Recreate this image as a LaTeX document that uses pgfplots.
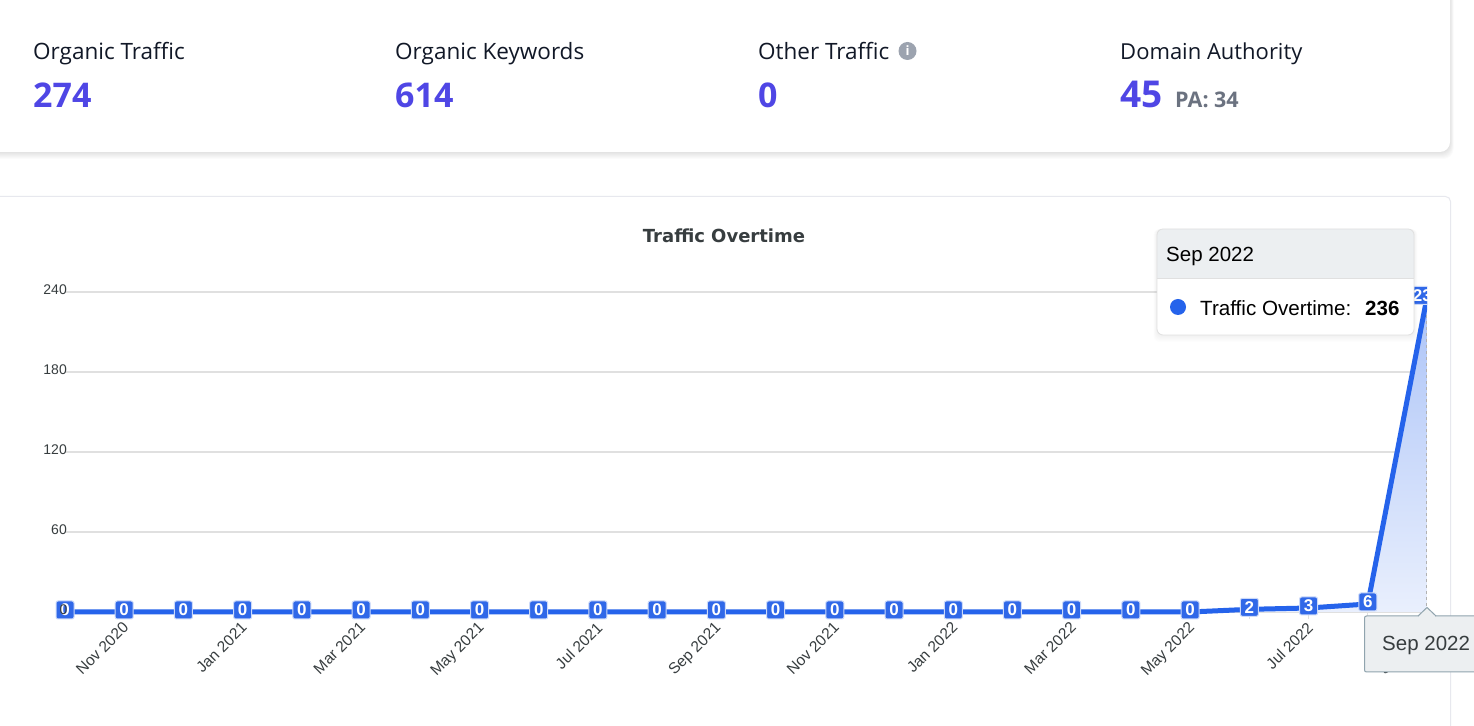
\documentclass[border=0pt]{standalone}
\usepackage{fontspec}
\setmainfont{Liberation Sans}
\newfontfamily\cardfont{Open Sans}
\newfontfamily\titlefont{DejaVu Sans}
\usepackage{pgfplots}
\pgfplotsset{compat=1.18}
\usepackage{pgfplotstable}
\definecolor{lineblue}{HTML}{2563EB}
\definecolor{labelblue}{HTML}{3068E8}
\definecolor{indigo}{HTML}{4F46E5}
\definecolor{txt}{HTML}{373D3F}
\definecolor{cardtxt}{HTML}{111827}
\definecolor{pagray}{HTML}{6B7280}
\definecolor{icongray}{HTML}{9CA3AF}
\definecolor{gridc}{HTML}{E0E0E0}
\definecolor{hdr}{HTML}{ECEFF1}
\definecolor{xtipb}{HTML}{90A4AE}
\definecolor{cardb}{HTML}{E7E8EE}
\newcommand{\px}[1]{\fontsize{#1}{#1}\selectfont}
\newcommand{\softshadow}[6]{%
  \foreach \d in {1,2,3,4,5,6,7}{%
    \fill[black,opacity=#6,rounded corners=#5] (#1-\d*0.5,#2) rectangle (#3+\d*0.5,#4+\d);}}
\pgfplotstableread{
idx traffic
0 0
1 0
2 0
3 0
4 0
5 0
6 0
7 0
8 0
9 0
10 0
11 0
12 0
13 0
14 0
15 0
16 0
17 0
18 0
19 0
20 2
21 3
22 6
23 236
}\traffic
\begin{document}
\begin{tikzpicture}[x=1pt,y=1pt]
\path[use as bounding box] (0,0) rectangle (1474,725);
\clip (0,0) rectangle (1474,725);
\fill[white] (0,0) rectangle (1474,725);
\begin{scope}[yshift=725pt,y=-1pt]
% top card
\softshadow{-12}{-12}{1450}{152}{10}{0.014}
\fill[white,rounded corners=10] (-12,-12) rectangle (1450,152);
\node[anchor=base west,inner sep=0,text=cardtxt] at (33,60) {\cardfont\px{22.5}Organic Traffic};
\node[anchor=base west,inner sep=0,text=cardtxt] at (395,60) {\cardfont\px{22.5}Organic Keywords};
\node[anchor=base west,inner sep=0,text=cardtxt] at (758,60) {\cardfont\px{22.5}Other Traffic};
\node[anchor=base west,inner sep=0,text=cardtxt] at (1120,60) {\cardfont\px{22}Domain Authority};
\node[anchor=base west,inner sep=0,text=indigo] at (33,108) {\cardfont\bfseries\px{34}274};
\node[anchor=base west,inner sep=0,text=indigo] at (395,108) {\cardfont\bfseries\px{34}614};
\node[anchor=base west,inner sep=0,text=indigo] at (758,108) {\cardfont\bfseries\px{34}0};
\node[anchor=base west,inner sep=0,text=indigo] at (1120,108) {\cardfont\bfseries\px{37}45};
\node[anchor=base west,inner sep=0,text=pagray] at (1175,108) {\cardfont\bfseries\px{21.5}PA: 34};
\fill[icongray] (907.5,51) circle (9);
\node[text=white,inner sep=0] at (907.5,51) {\cardfont\bfseries\px{13}i};
% chart card
\draw[cardb,line width=1pt,rounded corners=5] (-12,196.5) rectangle (1450.5,800);
\node[anchor=base,inner sep=0,text=txt] at (724,243) {\titlefont\bfseries\px{18}Traffic Overtime};
\end{scope}
% chart
\begin{scope}
\clip (0,0) rectangle (1427,725);
\begin{axis}[
  at={(65pt,113pt)},anchor=south west,
  scale only axis,width=1362pt,height=320pt,
  xmin=0,xmax=23,ymin=0,ymax=240,clip=false,
  axis line style={draw=none},
  xtick={0,...,23},
  xticklabels={,Nov 2020,,Jan 2021,,Mar 2021,,May 2021,,Jul 2021,,Sep 2021,,Nov 2021,,Jan 2022,,Mar 2022,,May 2022,,Jul 2022,,Sep 2022},
  ytick={0,60,120,180,240},
  ymajorgrids,
  grid style={gridc,line width=1.2pt},
  xtick pos=bottom,
  xtick align=outside,
  major tick length=7pt,
  x tick style={gridc,line width=1pt},
  y tick style={draw=none},
  tick label style={font=\px{14},text=txt,inner sep=0pt},
  x tick label style={font=\px{15.5},rotate=45,anchor=north east,xshift=-3pt,yshift=0.5pt},
  y tick label style={anchor=east,xshift=2pt,yshift=2pt},
  /pgf/number format/assume math mode=true,
]
\addplot[draw=none,top color=lineblue!38!white,bottom color=lineblue!10!white,forget plot] table[x=idx,y=traffic] {\traffic} \closedcycle;
\addplot[dashed,color=gray!60,line width=1pt,forget plot] coordinates {(23,0) (23,236)};
\addplot[lineblue,line width=5pt,line join=round,
  point meta=explicit symbolic,
  nodes near coords={\pgfplotspointmeta},
  every node near coord/.append style={
    anchor=center,yshift=2pt,font=\bfseries\px{17},text=white,
    fill=labelblue,draw=white!75!labelblue,line width=1pt,rounded corners=2pt,
    minimum width=18pt,minimum height=18pt,inner sep=0pt}]
  table[x=idx,y=traffic,meta=traffic] {\traffic};
\end{axis}
\end{scope}
\begin{scope}[yshift=725pt,y=-1pt]
% the axis's own 0, which lies over the first data label
\node[inner sep=0,text=txt] at (63.5,610) {\px{14}0};
% y tooltip
\softshadow{1157}{229}{1414}{335}{6}{0.008}
\fill[white,rounded corners=6] (1157,229) rectangle (1414,335);
\begin{scope}
\clip (1150,220) rectangle (1420,278);
\fill[hdr,rounded corners=6] (1157,229) rectangle (1414,335);
\end{scope}
\draw[gridc,line width=0.8pt,rounded corners=6] (1157,229) rectangle (1414,335);
\draw[gridc,line width=1pt] (1157,278.5) -- (1414,278.5);
\node[anchor=base west,inner sep=0,text=black] at (1166,262) {\px{20.5}Sep 2022};
\fill[lineblue] (1178,307) circle (8);
\node[anchor=base west,inner sep=0,text=black] at (1200,315.5) {\px{20.6}Traffic Overtime:};
\node[anchor=base west,inner sep=0,text=black] at (1365,315.5) {\bfseries\px{20.5}236};
% x tooltip
\filldraw[fill=hdr,draw=xtipb,line width=1pt,rounded corners=2] (1364.5,616) rectangle (1490,672);
\filldraw[fill=hdr,draw=xtipb,line width=1pt] (1418,616) -- (1427,607.5) -- (1436,616);
\fill[hdr] (1419,616) rectangle (1435,617.5);
\node[anchor=base west,inner sep=0,text=txt] at (1382,651) {\px{20.5}Sep 2022};
\end{scope}
\end{tikzpicture}
\end{document}
